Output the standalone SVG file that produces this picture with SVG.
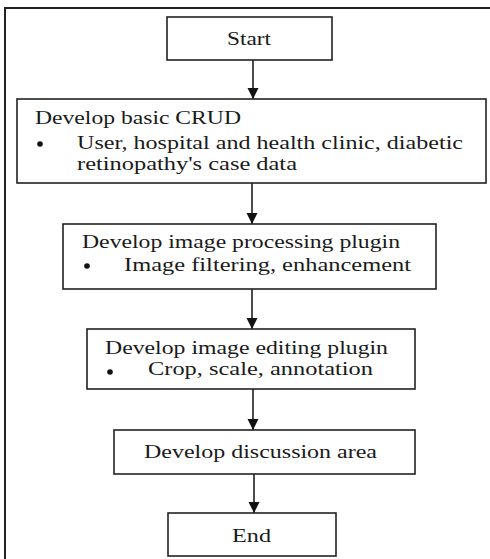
<svg xmlns="http://www.w3.org/2000/svg" width="490" height="559" viewBox="0 0 490 559">
<defs>
<marker id="ah" markerUnits="userSpaceOnUse" markerWidth="12" markerHeight="12" refX="11" refY="5.5" orient="auto">
<path d="M0,0 L11,5.5 L0,11 Z" fill="#111"/>
</marker>
<style>
.box{fill:#fff;stroke:#222;stroke-width:1.6}
.t{font-family:'Liberation Serif','Times New Roman',serif;font-size:18px;fill:#1a1a1a}
.e{stroke:#111;stroke-width:1.5;fill:none}
.b{fill:#111}
</style>
</defs>
<rect x="0" y="0" width="490" height="559" fill="#fff"/>
<rect id="frame" x="5" y="8" width="500" height="570" fill="none" stroke="#222" stroke-width="2"/>
<g id="connectors">
<line class="e" x1="253" y1="60" x2="253" y2="99" marker-end="url(#ah)"/>
<line class="e" x1="252" y1="183" x2="252" y2="224" marker-end="url(#ah)"/>
<line class="e" x1="252" y1="289" x2="252" y2="329" marker-end="url(#ah)"/>
<line class="e" x1="253" y1="389" x2="253" y2="430" marker-end="url(#ah)"/>
<line class="e" x1="254" y1="474" x2="254" y2="513" marker-end="url(#ah)"/>
</g>
<g id="start">
<rect class="box" x="167" y="17" width="165" height="43"/>
<text class="t" x="227" y="45" textLength="44" lengthAdjust="spacingAndGlyphs">Start</text>
</g>
<g id="crud">
<rect class="box" x="17" y="99" width="469" height="84"/>
<text class="t" x="35" y="124" textLength="206" lengthAdjust="spacingAndGlyphs">Develop basic CRUD</text>
<circle class="b" cx="40" cy="144" r="2.8"/>
<text class="t" x="77" y="149" textLength="386" lengthAdjust="spacingAndGlyphs">User, hospital and health clinic, diabetic</text>
<text class="t" x="77" y="170" textLength="220" lengthAdjust="spacingAndGlyphs">retinopathy's case data</text>
</g>
<g id="processing">
<rect class="box" x="63" y="224" width="373" height="65"/>
<text class="t" x="82" y="248" textLength="318" lengthAdjust="spacingAndGlyphs">Develop image processing plugin</text>
<circle class="b" cx="87" cy="266" r="2.8"/>
<text class="t" x="124" y="271" textLength="287" lengthAdjust="spacingAndGlyphs">Image filtering, enhancement</text>
</g>
<g id="editing">
<rect class="box" x="87" y="329" width="328" height="60"/>
<text class="t" x="105" y="354" textLength="283" lengthAdjust="spacingAndGlyphs">Develop image editing plugin</text>
<circle class="b" cx="110" cy="372" r="2.8"/>
<text class="t" x="148" y="375" textLength="225" lengthAdjust="spacingAndGlyphs">Crop, scale, annotation</text>
</g>
<g id="discussion">
<rect class="box" x="114" y="430" width="301" height="44"/>
<text class="t" x="144" y="458" textLength="233" lengthAdjust="spacingAndGlyphs">Develop discussion area</text>
</g>
<g id="end">
<rect class="box" x="168" y="513" width="168" height="43"/>
<text class="t" x="232" y="542" textLength="39" lengthAdjust="spacingAndGlyphs">End</text>
</g>
</svg>
